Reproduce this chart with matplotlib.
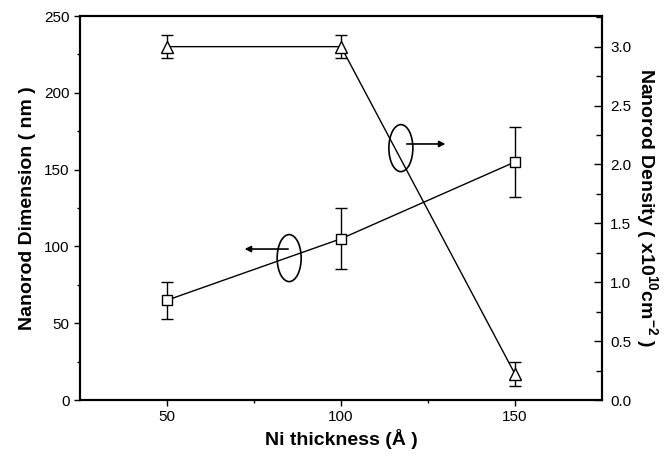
import numpy as np
import matplotlib
matplotlib.use("Agg")
import matplotlib.pyplot as plt
from matplotlib.patches import Ellipse

plt.rcParams['font.family'] = ['Liberation Sans', 'DejaVu Sans']
plt.rcParams['mathtext.fontset'] = 'custom'
plt.rcParams['mathtext.rm'] = 'Liberation Sans'
plt.rcParams['mathtext.bf'] = 'Liberation Sans:bold'

# datos
espesor = [50, 100, 150]
dimension = [65, 105, 155]          # nm
dimension_err = [12, 20, 23]
densidad = [3.0, 3.0, 0.22]         # x10^10 cm^-2
densidad_err = [0.1, 0.1, 0.1]

fig = plt.figure(figsize=(6.68, 4.58), dpi=100)
ax = fig.add_axes([0.1198, 0.1266, 0.7814, 0.8384])
ax2 = ax.twinx()

# Dimension (eje izquierdo)
ax.errorbar(espesor, dimension, yerr=dimension_err, color='black', lw=1,
            marker='s', ms=7, mfc='white', mec='black', mew=1,
            capsize=4, elinewidth=1, capthick=1)
# Densidad (eje derecho)
ax2.errorbar(espesor, densidad, yerr=densidad_err, color='black', lw=1,
             marker='^', ms=9, mfc='white', mec='black', mew=1,
             capsize=4, elinewidth=1, capthick=1)

ax.set_xlim(25, 175)
ax.set_ylim(0, 250)
ax2.set_ylim(0, 3.26)

ax.set_xticks([50, 100, 150])
ax.set_xticks([75, 125], minor=True)
ax.set_yticks(np.arange(0, 251, 50))
ax.set_yticks(np.arange(25, 250, 50), minor=True)
ax2.set_yticks(np.arange(0, 3.01, 0.5))
ax2.set_yticks(np.arange(0.25, 3.26, 0.5), minor=True)
ax2.set_yticklabels([f"{v:.1f}" for v in np.arange(0, 3.01, 0.5)])

ax.tick_params(axis='both', which='major', direction='out', length=4, width=1, labelsize=11)
ax.tick_params(axis='both', which='minor', direction='out', length=2.5, width=1)
ax2.tick_params(axis='y', which='major', direction='in', length=6, width=1, labelsize=11, pad=6)
ax2.tick_params(axis='y', which='minor', direction='in', length=4, width=1)

for a in (ax, ax2):
    for s in a.spines.values():
        s.set_linewidth(1.5)

ax.set_xlabel("Ni thickness (Å )", fontsize=14, fontweight='bold', labelpad=3)
ax.set_ylabel("Nanorod Dimension ( nm )", fontsize=14, fontweight='bold', labelpad=6)
ax2.set_ylabel(r"Nanorod Density ( x10$^{\mathbf{10}}$cm$^{\mathbf{-2}}$ )", fontsize=14,
               fontweight='bold', rotation=270, labelpad=20)

# elipses y flechas que indican el eje de cada curva
ax.add_patch(Ellipse((85.1, 92.4), 6.9, 30.6, fill=False, lw=1.2, ec='black'))
ax.annotate("", xy=(71.5, 98.3), xytext=(85.6, 98.3),
            arrowprops=dict(arrowstyle='-|>', color='black', lw=1.2, mutation_scale=9))
ax.add_patch(Ellipse((117.2, 164), 6.9, 30.6, fill=False, lw=1.2, ec='black'))
ax.annotate("", xy=(130.8, 166.7), xytext=(118.1, 166.7),
            arrowprops=dict(arrowstyle='-|>', color='black', lw=1.2, mutation_scale=9))

fig.savefig("out.png", dpi=100)
